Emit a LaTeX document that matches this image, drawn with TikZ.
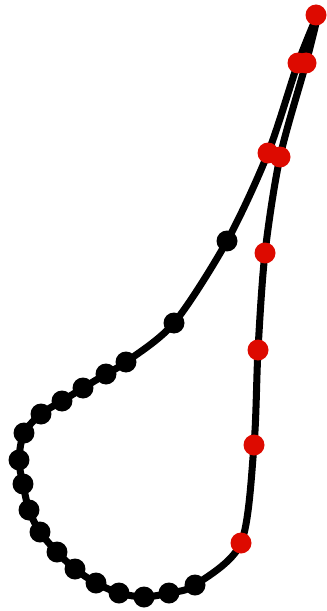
\documentclass[tikz,border=0pt]{standalone}
\usepackage{xcolor}
\usetikzlibrary{calc}
\definecolor{dotred}{RGB}{221,10,0}
\tikzset{
  loopline/.style = {line width=4pt, line cap=round, line join=round},
  bdot/.style     = {circle, fill=black, inner sep=0pt, minimum size=0.42cm},
  rdot/.style     = {circle, fill=dotred, inner sep=0pt, minimum size=0.42cm},
}

\begin{document}
\begin{tikzpicture}[x=0.02cm, y=-0.02cm]
\useasboundingbox (0,0) rectangle (326,611);
\foreach \n/\x/\y in {
    0/319/11, 1/298/63, 2/268/153, 3/227/241, 4/174/323, 5/126/362,
    6/106/374, 7/83/388, 8/62/401, 9/41/414, 10/24/433, 11/19/460,
    12/23/484, 13/29/510, 14/40/532, 15/57/552, 16/75/569, 17/96/583,
    18/119/593, 19/144/597, 20/169/593, 21/195/585, 22/241/543,
    23/254/445, 24/258/350, 25/265/253, 26/280/157, 27/306/63}{
    \coordinate (p\n) at (\x,\y);
}
\draw[loopline] plot[smooth] coordinates {
    (p0) (p1) (p2) (p3) (p4) (p5) (p6) (p7) (p8) (p9) (p10) (p11) (p12) (p13)
    (p14) (p15) (p16) (p17) (p18) (p19) (p20) (p21) (p22) (p23) (p24) (p25)
    (p26) (p27) (p0)};
\foreach \n/\s in {
    1/rdot, 2/rdot, 3/bdot, 4/bdot, 5/bdot, 6/bdot, 7/bdot, 8/bdot, 9/bdot,
    10/bdot, 11/bdot, 12/bdot, 13/bdot, 14/bdot, 15/bdot, 16/bdot, 17/bdot,
    18/bdot, 19/bdot, 20/bdot, 21/bdot, 22/rdot, 23/rdot, 24/rdot, 25/rdot,
    26/rdot, 27/rdot}{
    \node[\s] (d\n) at (p\n) {};
}
\node[rdot] (top) at ($(p0)+(-3,4)$) {};
\end{tikzpicture}
\end{document}
